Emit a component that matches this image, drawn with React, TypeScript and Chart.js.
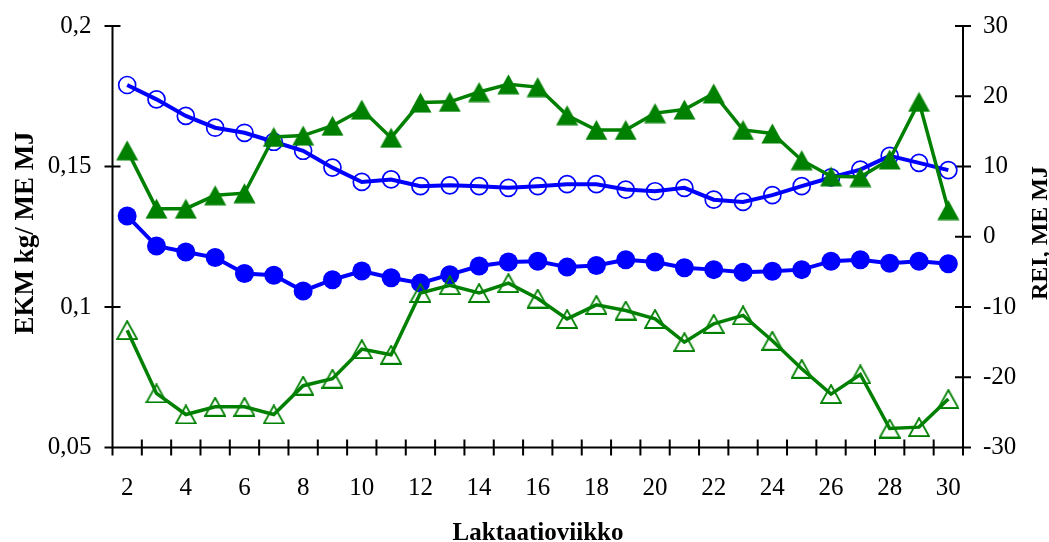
import React, { useEffect, useRef } from "react";
import { Chart, registerables } from "chart.js";

Chart.register(...registerables);

const weeks = [2, 3, 4, 5, 6, 7, 8, 9, 10, 11, 12, 13, 14, 15, 16, 17, 18, 19, 20, 21, 22, 23, 24, 25, 26, 27, 28, 29, 30];

// EKM kg / ME MJ (left axis)
const ekmOpen = [0.179, 0.1739, 0.168, 0.1638, 0.162, 0.1588, 0.1556, 0.1496, 0.1445, 0.1454, 0.143, 0.1433, 0.143, 0.1424, 0.143, 0.1437, 0.1437, 0.1418, 0.1412, 0.1424, 0.1382, 0.1374, 0.1398, 0.143, 0.1461, 0.1489, 0.1538, 0.1513, 0.1487];
const ekmFilled = [0.1324, 0.1217, 0.1196, 0.1176, 0.1119, 0.1113, 0.1057, 0.1097, 0.1128, 0.1104, 0.1085, 0.1115, 0.1146, 0.116, 0.1163, 0.1142, 0.1148, 0.1168, 0.116, 0.114, 0.1133, 0.1124, 0.1127, 0.1133, 0.1163, 0.1168, 0.1156, 0.1163, 0.1154];

// REI, ME MJ (right axis)
const reiFilled = [12.3, 4.0, 4.0, 5.9, 6.2, 14.2, 14.4, 15.8, 18.1, 14.1, 19.1, 19.2, 20.6, 21.7, 21.3, 17.3, 15.2, 15.2, 17.6, 18.1, 20.4, 15.2, 14.7, 10.9, 8.6, 8.5, 11.0, 19.2, 3.8];
const reiOpen = [-13.3, -22.3, -25.3, -24.2, -24.2, -25.3, -21.2, -20.2, -16.0, -16.8, -8.0, -6.9, -8.0, -6.6, -8.8, -11.7, -9.7, -10.5, -11.7, -15.0, -12.4, -11.2, -14.8, -18.8, -22.4, -19.6, -27.3, -27.1, -23.1];

const leftTicks = [0.05, 0.1, 0.15, 0.2];
const rightTicks = [-30, -20, -10, 0, 10, 20, 30];

const leftTitle = "EKM kg/ ME MJ";
const rightTitle = "REI, ME MJ";
const xTitle = "Laktaatioviikko";

const BLUE = "#0000FF";
const GREEN = "#008000";
const FONT = "'Liberation Serif', 'Times New Roman', serif";

function makeTriangle(filled: boolean): HTMLCanvasElement {
  const w = filled ? 23 : 22;
  const h = filled ? 21 : 20;
  const c = document.createElement("canvas");
  c.width = w;
  c.height = h;
  const ctx = c.getContext("2d")!;
  const inset = filled ? 0.5 : 1;
  ctx.beginPath();
  ctx.moveTo(w / 2, inset);
  ctx.lineTo(w - inset, h - inset);
  ctx.lineTo(inset, h - inset);
  ctx.closePath();
  if (filled) {
    ctx.fillStyle = GREEN;
    ctx.fill();
  } else {
    ctx.strokeStyle = GREEN;
    ctx.lineWidth = 1.8;
    ctx.lineJoin = "miter";
    ctx.stroke();
  }
  return c;
}

const axesPlugin = {
  id: "customAxes",
  beforeDatasetsDraw(chart: any) {
    const { ctx, chartArea: a, scales } = chart;
    const x = scales.x;
    const yL = scales.y;
    const yR = scales.y1;
    const t = 8;
    ctx.save();
    ctx.strokeStyle = "#000";
    ctx.lineWidth = 2;
    ctx.lineCap = "butt";
    ctx.beginPath();
    ctx.moveTo(a.left, a.top);
    ctx.lineTo(a.left, a.bottom + t);
    ctx.moveTo(a.right, a.top);
    ctx.lineTo(a.right, a.bottom + t);
    ctx.moveTo(a.left - t, a.bottom);
    ctx.lineTo(a.right + t, a.bottom);
    for (const v of leftTicks) {
      const p = yL.getPixelForValue(v);
      ctx.moveTo(a.left - t, p);
      ctx.lineTo(a.left + t, p);
    }
    for (const v of rightTicks) {
      const p = yR.getPixelForValue(v);
      ctx.moveTo(a.right - t, p);
      ctx.lineTo(a.right + t, p);
    }
    for (let i = 0; i <= weeks.length; i++) {
      const p = x.getPixelForValue(i - 0.5);
      ctx.moveTo(p, a.bottom - t);
      ctx.lineTo(p, a.bottom + t);
    }
    ctx.stroke();
    ctx.restore();
  },
  afterDraw(chart: any) {
    const { ctx } = chart;
    ctx.save();
    ctx.fillStyle = "#000";
    ctx.textAlign = "center";
    ctx.textBaseline = "alphabetic";
    ctx.save();
    ctx.font = `bold 27px ${FONT}`;
    ctx.translate(33, 233);
    ctx.rotate(-Math.PI / 2);
    ctx.fillText(leftTitle, 0, 0);
    ctx.restore();
    ctx.save();
    ctx.font = `bold 24px ${FONT}`;
    ctx.translate(1047, 233);
    ctx.rotate(-Math.PI / 2);
    ctx.fillText(rightTitle, 0, 0);
    ctx.restore();
    ctx.font = `bold 25px ${FONT}`;
    ctx.fillText(xTitle, 538, 540);
    ctx.restore();
  },
};

const hiddenGrid = {
  display: true,
  drawOnChartArea: false,
  drawTicks: true,
  tickLength: 15,
  color: "rgba(0,0,0,0)",
};

export default function App() {
  const canvasRef = useRef<HTMLCanvasElement | null>(null);

  useEffect(() => {
    const canvas = canvasRef.current;
    if (!canvas) return;
    const triFilled = makeTriangle(true);
    const triOpen = makeTriangle(false);

    const chart = new Chart(canvas, {
      type: "line",
      data: {
        labels: weeks.map(String),
        datasets: [
          {
            label: "REI filled",
            data: reiFilled,
            yAxisID: "y1",
            borderColor: GREEN,
            borderWidth: 3.5,
            pointStyle: triFilled as any,
            pointRadius: 10,
            pointBackgroundColor: GREEN,
            pointBorderColor: GREEN,
            tension: 0,
            order: 0,
            clip: false as any,
          },
          {
            label: "REI open",
            data: reiOpen,
            yAxisID: "y1",
            borderColor: GREEN,
            borderWidth: 3.5,
            pointStyle: triOpen as any,
            pointRadius: 10,
            pointBackgroundColor: "rgba(0,0,0,0)",
            pointBorderColor: GREEN,
            tension: 0,
            order: 1,
            clip: false as any,
          },
          {
            label: "EKM open",
            data: ekmOpen,
            yAxisID: "y",
            borderColor: BLUE,
            borderWidth: 4,
            pointStyle: "circle",
            pointRadius: 8.5,
            pointBorderWidth: 1.7,
            pointBackgroundColor: "rgba(0,0,0,0)",
            pointBorderColor: BLUE,
            tension: 0,
            order: 2,
            clip: false as any,
          },
          {
            label: "EKM filled",
            data: ekmFilled,
            yAxisID: "y",
            borderColor: BLUE,
            borderWidth: 4,
            pointStyle: "circle",
            pointRadius: 9.5,
            pointBorderWidth: 0,
            pointBackgroundColor: BLUE,
            pointBorderColor: BLUE,
            tension: 0,
            order: 3,
            clip: false as any,
          },
        ],
      },
      options: {
        responsive: false,
        animation: false,
        events: [],
        layout: { padding: { top: 26, left: 0, right: 0, bottom: 0 } },
        plugins: {
          legend: { display: false },
          tooltip: { enabled: false },
          title: { display: false },
        },
        scales: {
          x: {
            type: "category",
            offset: true,
            grid: hiddenGrid,
            border: { display: false },
            ticks: {
              autoSkip: false,
              maxRotation: 0,
              minRotation: 0,
              padding: 11,
              color: "#000",
              font: { family: FONT, size: 25 },
              callback: (_v: any, i: number) => (weeks[i] % 2 === 0 ? String(weeks[i]) : ""),
            },
            afterFit: (s: any) => {
              s.height = 542 - 447.5;
            },
          },
          y: {
            type: "linear",
            position: "left",
            min: 0.05,
            max: 0.2,
            grid: hiddenGrid,
            border: { display: false },
            afterBuildTicks: (s: any) => {
              s.ticks = leftTicks.map((v) => ({ value: v }));
            },
            ticks: {
              padding: 6,
              color: "#000",
              font: { family: FONT, size: 25 },
              callback: (v: any) => String(Number(Number(v).toFixed(2))).replace(".", ","),
            },
            afterFit: (s: any) => {
              s.width = 112.5;
            },
          },
          y1: {
            type: "linear",
            position: "right",
            min: -30,
            max: 30,
            grid: hiddenGrid,
            border: { display: false },
            afterBuildTicks: (s: any) => {
              s.ticks = rightTicks.map((v) => ({ value: v }));
            },
            ticks: {
              padding: 5,
              color: "#000",
              font: { family: FONT, size: 25 },
              callback: (v: any) => String(v),
            },
            afterFit: (s: any) => {
              s.width = 1049 - 963;
            },
          },
        },
      },
      plugins: [axesPlugin],
    });

    return () => {
      chart.destroy();
    };
  }, []);

  return (
    <div style={{ position: "fixed", left: 0, top: 0, width: 1049, height: 542, background: "#fff" }}>
      <canvas ref={canvasRef} width={1049} height={542} style={{ display: "block", width: 1049, height: 542 }} />
    </div>
  );
}
